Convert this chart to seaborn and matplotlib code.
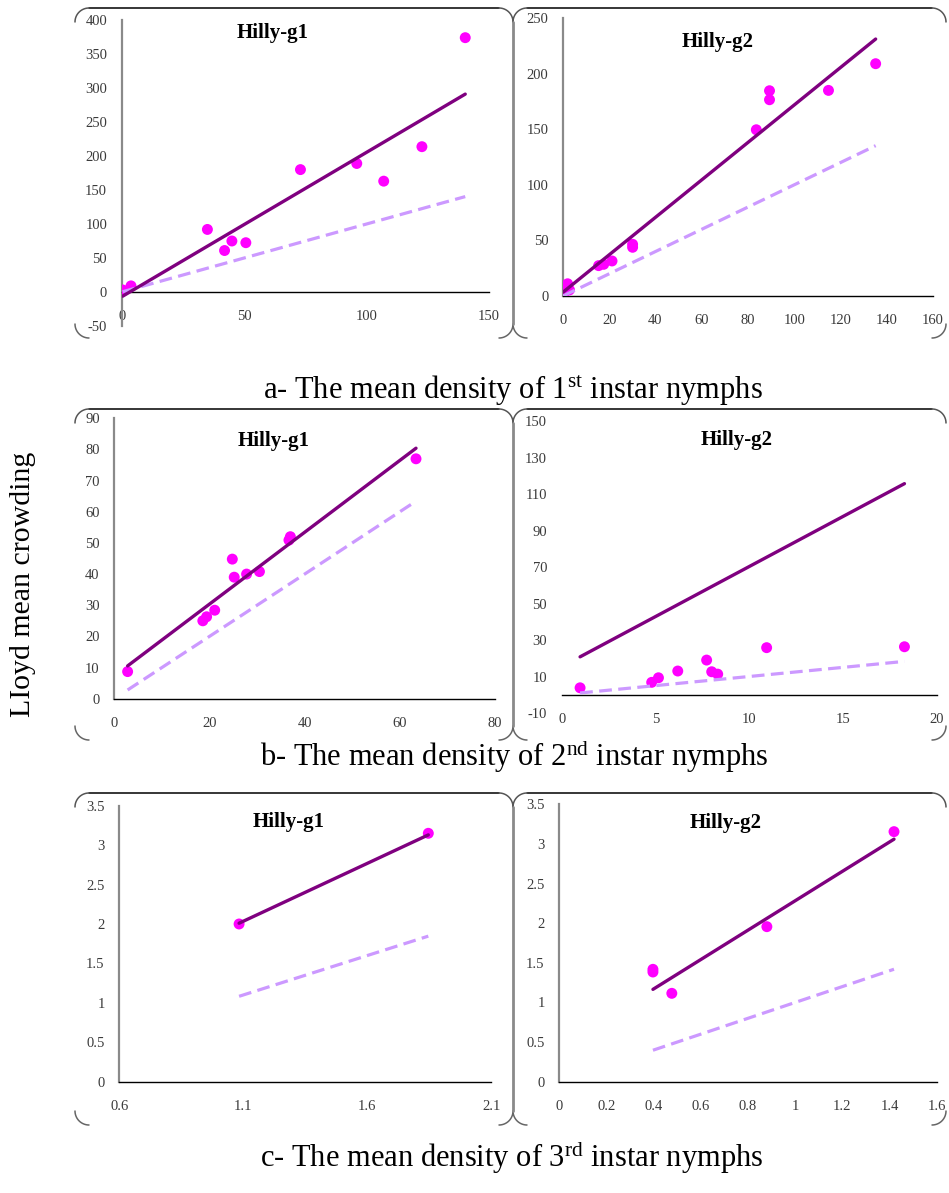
import numpy as np
import matplotlib
matplotlib.use("Agg")
import matplotlib.pyplot as plt
from matplotlib.lines import Line2D
from matplotlib.ticker import FuncFormatter
import seaborn as sns

# ---------------- data ----------------
# Hilly-g1, 1st instar: mean density vs Lloyd mean crowding
g1_n1_mean = [0.4, 3.8, 35.0, 42.0, 45.0, 50.7, 73.0, 96.0, 107.0, 122.6, 140.3]
g1_n1_crowd = [3.0, 9.0, 92.0, 61.0, 75.0, 72.5, 180.0, 189.0, 163.0, 213.7, 374.0]
g1_n1_fit = (-7.0, 2.124)          # intercept, slope

# Hilly-g2, 1st instar
g2_n1_mean = [0.1, 0.5, 1.0, 2.0, 2.8, 15.4, 17.6, 21.2, 30.1, 30.1,
              83.6, 89.3, 89.3, 114.8, 135.2]
g2_n1_crowd = [1.0, 3.5, 6.0, 11.0, 5.5, 27.3, 28.5, 31.5, 46.5, 43.8,
               149.5, 184.6, 176.5, 184.9, 208.9]
g2_n1_fit = (3.4, 1.684)

# Hilly-g1, 2nd instar
g1_n2_mean = [2.8, 18.6, 19.4, 21.1, 24.8, 25.2, 27.8, 30.5, 36.7, 37.0, 63.4]
g1_n2_crowd = [8.7, 25.0, 26.3, 28.4, 44.8, 39.0, 40.0, 40.8, 50.9, 52.0, 77.0]
g1_n2_fit = (7.3, 1.153)

# Hilly-g2, 2nd instar
g2_n2_mean = [0.98, 4.8, 5.16, 6.19, 7.73, 8.0, 8.32, 10.93, 18.28]
g2_n2_crowd = [3.8, 6.8, 9.3, 13.0, 19.0, 12.6, 11.3, 25.8, 26.3]
g2_n2_fit = (15.4, 5.485)

# Hilly-g1, 3rd instar
g1_n3_mean = [1.083, 1.846]
g1_n3_crowd = [2.0, 3.15]
g1_n3_fit = (0.42, 1.468)

# Hilly-g2, 3rd instar
g2_n3_mean = [0.397, 0.397, 0.477, 0.88, 1.419]
g2_n3_crowd = [1.418, 1.384, 1.115, 1.956, 3.155]
g2_n3_fit = (0.429, 1.854)

titles = ["Hilly-g1", "Hilly-g2"]
captions = [
    r"a- The mean density of 1$^{\mathrm{st}}$ instar nymphs",
    r"b- The mean density of 2$^{\mathrm{nd}}$ instar nymphs",
    r"c- The mean density of 3$^{\mathrm{rd}}$ instar nymphs",
]
y_label = "LIoyd mean crowding"

# ---------------- style ----------------
sns.set_style("white")
plt.rcParams["font.family"] = ["Liberation Serif", "DejaVu Serif"]
plt.rcParams["mathtext.fontset"] = "custom"
plt.rcParams["mathtext.rm"] = "Liberation Serif"
plt.rcParams["mathtext.it"] = "Liberation Serif:italic"
plt.rcParams["mathtext.bf"] = "Liberation Serif:bold"

W, H = 949, 1193
fig = plt.figure(figsize=(W / 100, H / 100), dpi=100)
fig.patch.set_facecolor("white")

POINT_C = "#FF00FF"
FIT_C = "#7F007F"
RAND_C = "#CC99FF"
TICK_C = "#3a3a3a"


def box(x0, x1, yt, yb):
    return [x0 / W, 1 - yb / H, (x1 - x0) / W, (yb - yt) / H]


def fmt(v, _pos):
    return "{:g}".format(round(v, 6))


panels = [
    # data, fit, axes box (px), xlim, xticks, ylim, yticks, title pos, show y spine
    (g1_n1_mean, g1_n1_crowd, g1_n1_fit, (121.7, 489, 20, 326),
     (0, 150), np.arange(0, 151, 50), (-50, 400), np.arange(-50, 401, 50),
     (273, 33), 0, True),
    (g2_n1_mean, g2_n1_crowd, g2_n1_fit, (563, 933, 18, 296),
     (0, 160), np.arange(0, 161, 20), (0, 250), np.arange(0, 251, 50),
     (718, 42), 1, True),
    (g1_n2_mean, g1_n2_crowd, g1_n2_fit, (114.3, 495, 418.3, 698.7),
     (0, 80), np.arange(0, 81, 20), (0, 90), np.arange(0, 91, 10),
     (274, 441), 0, True),
    (g2_n2_mean, g2_n2_crowd, g2_n2_fit, (561.7, 936.7, 421, 713),
     (0, 20), np.arange(0, 21, 5), (-10, 150), np.arange(-10, 151, 20),
     (737, 440), 1, False),
    (g1_n3_mean, g1_n3_crowd, g1_n3_fit, (119.3, 491.3, 805.7, 1081.7),
     (0.6, 2.1), np.arange(0.6, 2.11, 0.5), (0, 3.5), np.arange(0, 3.51, 0.5),
     (289, 822), 0, True),
    (g2_n3_mean, g2_n3_crowd, g2_n3_fit, (559.3, 936.7, 804.3, 1081.7),
     (0, 1.6), np.arange(0, 1.61, 0.2), (0, 3.5), np.arange(0, 3.51, 0.5),
     (726, 823), 1, True),
]

for (xs, ys, fit, bx, xlim, xticks, ylim, yticks, tpos, tidx, yspine) in panels:
    ax = fig.add_axes(box(*bx))
    ax.patch.set_visible(False)
    xs = np.asarray(xs)
    ys = np.asarray(ys)

    sns.scatterplot(x=xs, y=ys, ax=ax, color=POINT_C, s=62,
                    edgecolor="none", linewidth=0, zorder=3)

    xr = np.array([xs.min(), xs.max()])
    a, b = fit
    sns.lineplot(x=xr, y=xr, ax=ax, color=RAND_C, linewidth=2.3,
                 linestyle=(0, (4, 2)), zorder=4)
    sns.lineplot(x=xr, y=a + b * xr, ax=ax, color=FIT_C, linewidth=2.4,
                 zorder=5)

    ax.set_xlim(*xlim)
    ax.set_ylim(*ylim)
    ax.set_xticks(xticks)
    ax.set_yticks(yticks)
    ax.xaxis.set_major_formatter(FuncFormatter(fmt))
    ax.yaxis.set_major_formatter(FuncFormatter(fmt))
    ax.set_xlabel("")
    ax.set_ylabel("")

    for s in ("top", "right"):
        ax.spines[s].set_visible(False)
    ax.spines["bottom"].set_position(("data", 0))
    ax.spines["bottom"].set_color("black")
    ax.spines["bottom"].set_linewidth(1.0)
    ax.spines["left"].set_color("#8a8a8a")
    ax.spines["left"].set_linewidth(1.6)
    ax.spines["left"].set_visible(yspine)

    ax.tick_params(axis="x", direction="out", length=3, width=0.8,
                   color="black", pad=10, labelsize=10.5, labelcolor=TICK_C)
    ax.tick_params(axis="y", direction="out", length=3, width=0.8,
                   color="#333333", pad=7.5, labelsize=10.5, labelcolor=TICK_C)

    fig.text(tpos[0] / W, 1 - tpos[1] / H, titles[tidx], ha="center",
             va="center", fontsize=15, fontweight="bold", color="black")

# ---------------- captions and shared label ----------------
cap_pos = [(513, 391), (514, 756), (512, 1157)]
for (cx, cy), txt in zip(cap_pos, captions):
    fig.text(cx / W, 1 - cy / H, txt, ha="center", va="center",
             fontsize=22, color="black")

fig.text(23 / W, 1 - 584 / H, y_label, rotation=90, ha="center",
         va="center", fontsize=21.5, color="black")

# ---------------- rounded panel frames ----------------
def fline(xp, yp, **kw):
    xp = np.asarray(xp, float) / W
    yp = 1 - np.asarray(yp, float) / H
    fig.add_artist(Line2D(xp, yp, transform=fig.transFigure, **kw))


def corner(cx, cy, r, a0, a1, **kw):
    t = np.radians(np.linspace(a0, a1, 20))
    fline(cx + r * np.cos(t), cy - r * np.sin(t), **kw)


XL, XM, XR, R = 75, 513, 946, 14
rows = [(8, 338), (409, 740), (793, 1125)]
for top, bot in rows:
    for x0, x1 in ((XL, XM), (XM, XR)):
        fline([x0 + R, x1 - R], [top, top], color="black", lw=1.1)
        corner(x0 + R, top + R, R, 90, 180, color="#555555", lw=1.1)
        corner(x1 - R, top + R, R, 0, 90, color="#555555", lw=1.1)
        corner(x0 + R, bot - R, R, 180, 270, color="#666666", lw=1.1)
        corner(x1 - R, bot - R, R, 270, 360, color="#666666", lw=1.1)
    fline([XM, XM], [top + R, bot - R], color="#8a8a8a", lw=2.0)

fig.savefig("out.png", dpi=100, facecolor="white")
